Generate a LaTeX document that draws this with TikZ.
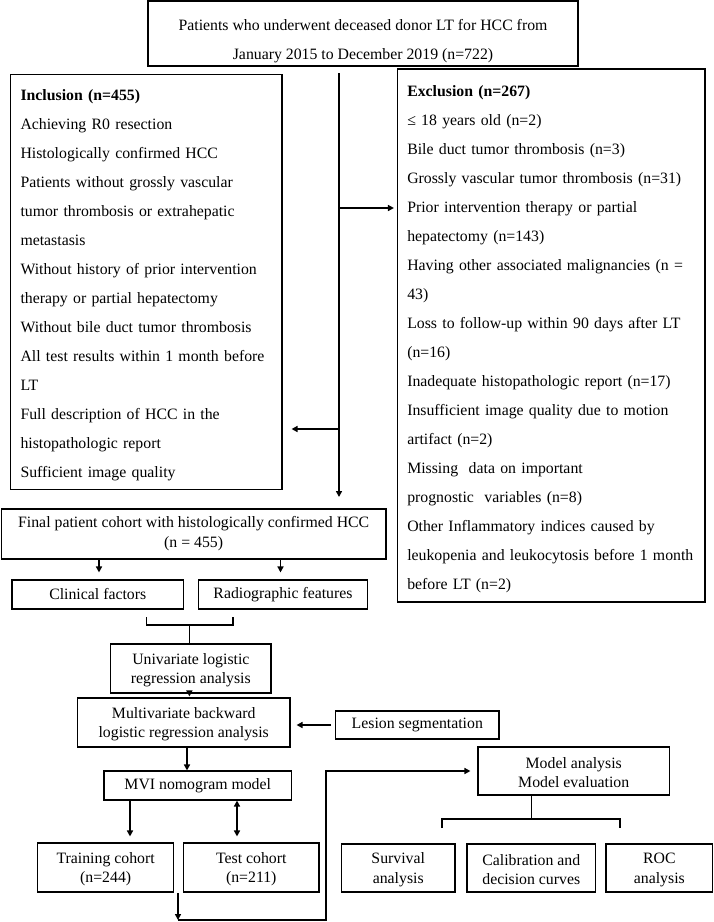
\documentclass[tikz,border=0pt]{standalone}
\usepackage{fontspec}
\setmainfont{Liberation Serif}
\usetikzlibrary{arrows.meta}

\begin{document}
\begin{tikzpicture}[x=1pt, y=-1pt,
	box/.style={draw, line width=1.1pt, inner sep=0pt, align=center,
		font={\fontsize{15.8}{19.5}\selectfont}},
	listbox/.style={draw, line width=1.1pt, inner xsep=10pt, inner ysep=0pt, align=left,
		font={\fontsize{15.8}{29}\selectfont}},
	link/.style={line width=1.6pt, -{Triangle[length=6pt,width=6pt]}},
	bar/.style={line width=1.6pt}]

	\useasboundingbox (0,0) rectangle (714,922);

	%screening part
	\node[box, minimum width=430, minimum height=65, font={\fontsize{15.8}{29}\selectfont}] (src) at (363,33.5)
		{\rule{0pt}{27pt}Patients who underwent deceased donor LT for HCC from\\January 2015 to December 2019 (n=722)};
	\node[listbox, text width=251.5, minimum height=415] (incl) at (146.25,282)
		{\rule{0pt}{17pt}\textbf{Inclusion (n=455)}\\
		Achieving R0 resection\\
		Histologically confirmed HCC\\
		Patients without grossly vascular\\
		tumor thrombosis or extrahepatic\\
		metastasis\\
		Without history of prior intervention\\
		therapy or partial hepatectomy\\
		Without bile duct tumor thrombosis\\
		All test results within 1 month before\\
		LT\\
		Full description of HCC in the\\
		histopathologic report\\
		Sufficient image quality};
	\node[listbox, inner xsep=9.75pt, text width=288, minimum height=533] (excl) at (551.25,335.5)
		{\rule{0pt}{19pt}\textbf{Exclusion (n=267)}\\
		≤ 18 years old (n=2)\\
		Bile duct tumor thrombosis (n=3)\\
		Grossly vascular tumor thrombosis (n=31)\\
		Prior intervention therapy or partial\\
		hepatectomy (n=143)\\
		\mbox{Having other associated malignancies (n =}\\
		43)\\
		\mbox{Loss to follow-up within 90 days after LT}\\
		(n=16)\\
		Inadequate histopathologic report (n=17)\\
		Insufficient image quality due to motion\\
		artifact (n=2)\\
		Missing\ \ data on important\\
		prognostic\ \ variables (n=8)\\
		Other Inflammatory indices caused by\\
		\mbox{leukopenia and leukocytosis before 1 month}\\
		before LT (n=2)};

	\coordinate (trunktop) at (339,73);
	\coordinate (trunkend) at (339,497);
	\coordinate (toexcl) at (339,208);
	\coordinate (toincl) at (339,429);
	\draw[link] (trunktop) -- (trunkend);
	\draw[link, shorten >=3pt] (toexcl) -- (toexcl -| excl.west);
	\draw[link, shorten >=9pt] (toincl) -- (toincl -| incl.east);

	%model building part
	\node[box, minimum width=384.6, minimum height=50, font={\fontsize{15.8}{20}\selectfont}] (cohort) at (193.7,534)
		{Final patient cohort with histologically confirmed HCC\\(n = 455)};
	\node[box, minimum width=171.5, minimum height=29] (clin) at (97.75,594.5) {Clinical factors};
	\node[box, minimum width=169, minimum height=29] (radio) at (283,594.5) {Radiographic features};
	\draw[link, shorten >=7pt] (cohort.south -| 99,0) -- (clin.north -| 99,0);
	\draw[link, shorten >=7pt] (cohort.south -| 280.5,0) -- (radio.north -| 280.5,0);

	\node[box, minimum width=160.3, minimum height=49] (uni) at (190.85,668.5)
		{\rule{0pt}{14pt}Univariate logistic\\regression analysis};
	\coordinate (brl) at (146.6,617);
	\coordinate (brr) at (232.7,617);
	\coordinate (brm) at (189.4,625);
	\draw[bar] (brl) -- (brl |- brm) -- (brr |- brm) -- (brr);
	\draw[bar] (brm) -- (uni.north -| brm);

	\node[box, minimum width=212.6, minimum height=49] (multi) at (183.7,722.5)
		{\rule{0pt}{14pt}Multivariate backward\\logistic regression analysis};
	\node[box, minimum width=163.4, minimum height=28] (lesion) at (417.3,725) {Lesion segmentation};
	\draw[link, shorten >=1pt] (uni.south -| brm) -- (multi.north -| brm);
	\draw[link, shorten <=4pt, shorten >=6pt] (lesion.west) -- (lesion.west -| multi.east);

	\node[box, minimum width=187.5, minimum height=29] (mvi) at (197.75,785.5) {MVI nomogram model};
	\draw[link] (multi.south -| 187,0) -- (mvi.north -| 187,0);

	\node[box, minimum width=135.7, minimum height=49] (train) at (105.65,867.5)
		{\rule{0pt}{14pt}Training cohort\\(n=244)};
	\node[box, minimum width=135.5, minimum height=49] (test) at (251.25,867.5)
		{\rule{0pt}{14pt}Test cohort\\(n=211)};
	\draw[link, shorten >=6pt] (mvi.south -| 130,0) -- (train.north -| 130,0);
	\draw[link, {Triangle[length=6pt,width=6pt]}-{Triangle[length=6pt,width=6pt]}, shorten >=6pt]
		(mvi.south -| 237,0) -- (test.north -| 237,0);

	%evaluation part
	\node[box, minimum width=191.5, minimum height=48] (eval) at (573.75,771)
		{\rule{0pt}{14pt}Model analysis\\Model evaluation};
	\coordinate (gap) at (178,893);
	\coordinate (low) at (178,920);
	\coordinate (turn) at (326,920);
	\draw[link] (gap) -- (low);
	\draw[link, shorten >=7pt] (low) -- (turn) |- (eval.west);

	\node[box, minimum width=113.5, minimum height=48] (surv) at (398.25,868)
		{\rule{0pt}{14pt}Survival\\analysis};
	\node[box, minimum width=128.6, minimum height=48] (calib) at (531.3,868)
		{\rule{0pt}{14pt}Calibration and\\decision curves};
	\node[box, minimum width=106.7, minimum height=48] (roc) at (659.35,868)
		{\rule{0pt}{14pt}ROC\\analysis};
	\coordinate (ebl) at (442,828);
	\coordinate (ebr) at (620,828);
	\coordinate (ebm) at (531.5,819);
	\draw[bar] (ebl) -- (ebl |- ebm) -- (ebr |- ebm) -- (ebr);
	\draw[bar] (ebm) -- (eval.south -| ebm);

\end{tikzpicture}
\end{document}
